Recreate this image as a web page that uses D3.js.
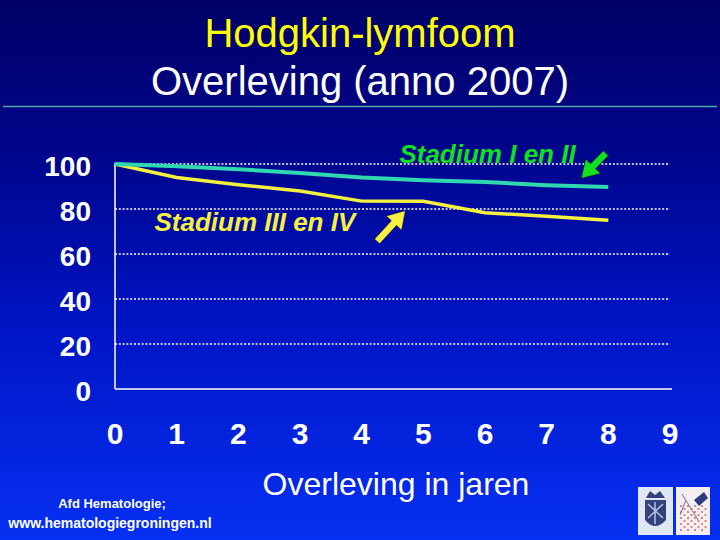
<!DOCTYPE html>
<html>
<head>
<meta charset="utf-8">
<script src="https://cdn.jsdelivr.net/npm/d3@7"></script>
<style>
  html, body { margin: 0; padding: 0; background: #000070; }
  svg { display: block; }
  text { font-family: "Liberation Sans", Arial, sans-serif; }
</style>
</head>
<body>
<script>
// ---- data ----
const years = [0, 1, 2, 3, 4, 5, 6, 7, 8];
const stadiumIenII = [100, 99, 97.7, 96, 94, 92.8, 92, 90.6, 89.8];
const stadiumIIIenIV = [100, 94, 90.8, 88, 83.5, 83.4, 78.3, 76.8, 75];
const xTicks = [0, 1, 2, 3, 4, 5, 6, 7, 8, 9];
const yTicks = [0, 20, 40, 60, 80, 100];
const gridValues = [20, 40, 60, 80, 100];
const seriesNames = ["Stadium I en II", "Stadium III en IV"];
const titleLine1 = "Hodgkin-lymfoom";
const titleLine2 = "Overleving (anno 2007)";
const xAxisTitle = "Overleving in jaren";
const footer = ["Afd Hematologie;", "www.hematologiegroningen.nl"];

const W = 720, H = 540;
const svg = d3.select("body").append("svg").attr("width", W).attr("height", H);

// background gradient
const defs = svg.append("defs");
const grad = defs.append("linearGradient").attr("id", "bg").attr("x1", 0).attr("y1", 0).attr("x2", 0).attr("y2", 1);
grad.append("stop").attr("offset", "0%").attr("stop-color", "#000066");
grad.append("stop").attr("offset", "30%").attr("stop-color", "#00068e");
grad.append("stop").attr("offset", "60%").attr("stop-color", "#0014c4");
grad.append("stop").attr("offset", "100%").attr("stop-color", "#0630f2");
svg.append("rect").attr("width", W).attr("height", H).attr("fill", "url(#bg)");

// titles
svg.append("text").attr("x", 360).attr("y", 47).attr("text-anchor", "middle")
  .attr("font-size", 40).attr("fill", "#ffff00").text(titleLine1);
svg.append("text").attr("x", 360).attr("y", 95).attr("text-anchor", "middle")
  .attr("font-size", 40).attr("fill", "#ffffff").text(titleLine2);
svg.append("line").attr("x1", 3).attr("x2", 717).attr("y1", 106.5).attr("y2", 106.5)
  .attr("stroke", "#52a8a8").attr("stroke-width", 1.5);

// scales
const x = d3.scaleLinear().domain([0, 9]).range([115, 670]);
const y = d3.scaleLinear().domain([0, 100]).range([389, 164]);

// gridlines
svg.append("g").selectAll("line").data(gridValues).join("line")
  .attr("x1", x(0)).attr("x2", x(9))
  .attr("y1", d => y(d)).attr("y2", d => y(d))
  .attr("stroke", "#ffffff").attr("stroke-width", 1.6)
  .attr("stroke-dasharray", "2,1.8");

// axes (lines only; labels drawn separately)
svg.append("line").attr("x1", x(0)).attr("x2", x(0)).attr("y1", y(100) - 1).attr("y2", y(0))
  .attr("stroke", "#ffffff").attr("stroke-width", 1.5);
svg.append("line").attr("x1", x(0)).attr("x2", x(9) + 2).attr("y1", y(0)).attr("y2", y(0))
  .attr("stroke", "#ffffff").attr("stroke-width", 1.5);

// y tick labels
svg.append("g").selectAll("text").data(yTicks).join("text")
  .attr("x", 91).attr("y", d => y(d) + 12)
  .attr("text-anchor", "end").attr("font-size", 28).attr("font-weight", "bold")
  .attr("fill", "#ffffff").text(d => d);

// x tick labels
svg.append("g").selectAll("text").data(xTicks).join("text")
  .attr("x", d => x(d)).attr("y", 444)
  .attr("text-anchor", "middle").attr("font-size", 30).attr("font-weight", "bold")
  .attr("fill", "#ffffff").text(d => d);

// x axis title
svg.append("text").attr("x", 396).attr("y", 495).attr("text-anchor", "middle")
  .attr("font-size", 32).attr("fill", "#ffffff").text(xAxisTitle);

// series lines
const line = d3.line().x((d, i) => x(years[i])).y(d => y(d));
svg.append("path").datum(stadiumIIIenIV).attr("d", line)
  .attr("fill", "none").attr("stroke", "#f4f040").attr("stroke-width", 3.5);
svg.append("path").datum(stadiumIenII).attr("d", line)
  .attr("fill", "none").attr("stroke", "#30d8b0").attr("stroke-width", 4);

// labels
svg.append("text").attr("x", x(7.47)).attr("y", y(100.4)).attr("text-anchor", "end")
  .attr("font-size", 26).attr("font-weight", "bold").attr("font-style", "italic")
  .attr("fill", "#10e020").text(seriesNames[0]);
svg.append("text").attr("x", x(0.64)).attr("y", y(70.2)).attr("text-anchor", "start")
  .attr("font-size", 26).attr("font-weight", "bold").attr("font-style", "italic")
  .attr("fill", "#f8f040").text(seriesNames[1]);

// arrows (annotation positions in data units)
function arrow(t0, v0, t1, v1, color) {
  const x0 = x(t0), y0 = y(v0), x1 = x(t1), y1 = y(v1);
  const dx = x1 - x0, dy = y1 - y0, L = Math.hypot(dx, dy);
  const ux = dx / L, uy = dy / L, px = -uy, py = ux;
  const head = 17, hw = 10.5, sw = 3.5;
  const bx = x1 - ux * head, by = y1 - uy * head;
  const pts = [
    [x0 + px * sw, y0 + py * sw],
    [bx + px * sw, by + py * sw],
    [bx + px * hw, by + py * hw],
    [x1, y1],
    [bx - px * hw, by - py * hw],
    [bx - px * sw, by - py * sw],
    [x0 - px * sw, y0 - py * sw]
  ];
  svg.append("path").attr("d", "M" + pts.map(p => p.join(",")).join("L") + "Z")
    .attr("fill", color).attr("stroke", "#000033").attr("stroke-width", 0.6);
}
arrow(7.96, 104.8, 7.56, 93.6, "#10e020");
arrow(4.25, 65.6, 4.71, 79.3, "#f8f040");

// footer
svg.append("text").attr("x", 112).attr("y", 508).attr("text-anchor", "middle")
  .attr("font-size", 13).attr("font-weight", "bold").attr("fill", "#ffffff").text(footer[0]);
svg.append("text").attr("x", 110).attr("y", 528).attr("text-anchor", "middle")
  .attr("font-size", 14).attr("font-weight", "bold").attr("fill", "#ffffff").text(footer[1]);

// logos (decorative)
const lg = svg.append("g");
lg.append("rect").attr("x", 638).attr("y", 487).attr("width", 35).attr("height", 48).attr("fill", "#dfe6f4");
lg.append("path").attr("d", "M645,500 L666,500 L666,520 Q655,532 645,520 Z").attr("fill", "#33427a");
lg.append("path").attr("d", "M646,498 L650,491 L655,495 L660,491 L665,498 Z").attr("fill", "#33427a");
lg.append("path").attr("d", "M648,504 L663,518 M663,504 L648,518 M655,502 L655,524")
  .attr("stroke", "#b8c4e0").attr("stroke-width", 1.5);
lg.append("rect").attr("x", 676).attr("y", 487).attr("width", 34).attr("height", 48).attr("fill", "#f2eef2");
const dots = [];
for (let i = 0; i < 8; i++) for (let j = 0; j < 9; j++) if ((i + j) % 2 === 0) dots.push([680 + i * 3.5, 505 + j * 3]);
lg.append("g").selectAll("rect").data(dots).join("rect")
  .attr("x", d => d[0]).attr("y", d => d[1]).attr("width", 2).attr("height", 2).attr("fill", "#d88a80");
lg.append("path").attr("d", "M694,500 L704,492 L708,498 L699,506 Z").attr("fill", "#2c3c80");
lg.append("path").attr("d", "M682,494 L698,520 M686,500 L680,515").attr("stroke", "#8a6a80").attr("stroke-width", 1);
</script>
</body>
</html>
